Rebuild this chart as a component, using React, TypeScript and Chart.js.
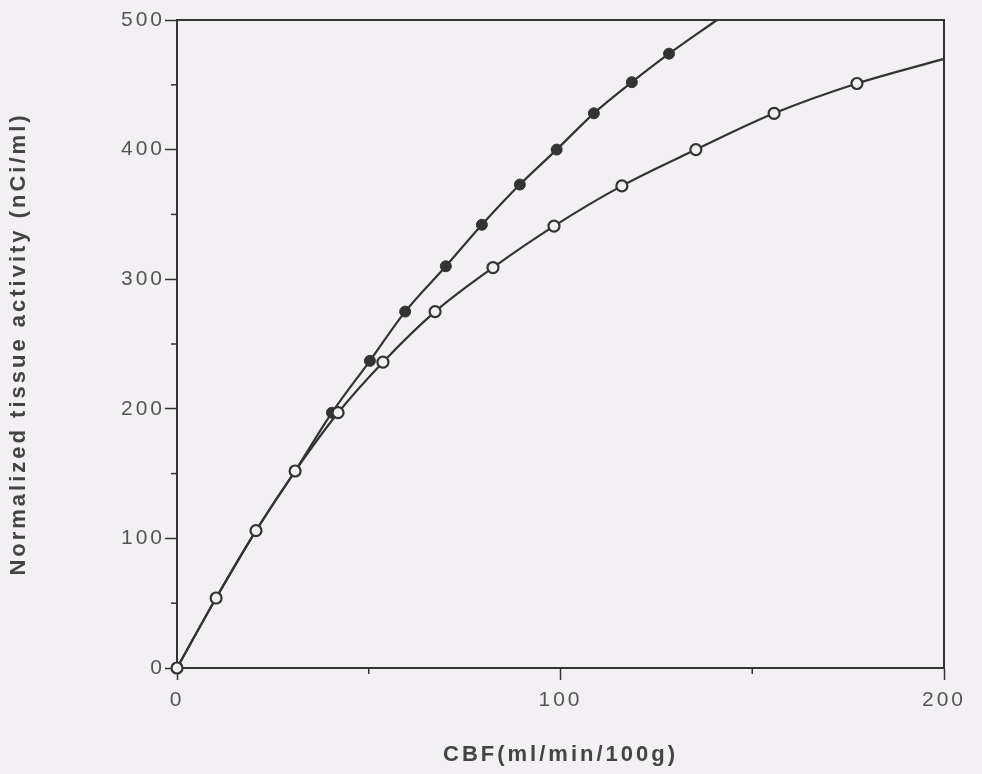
import React, { useEffect, useRef } from "react";
import { Chart, registerables } from "chart.js";

Chart.register(...registerables);

// Filled circles series (CBF, activity)
const cbfFilled = [0, 10.2, 20.6, 30.8, 40.4, 50.3, 59.5, 70.1, 79.5, 89.4, 99, 108.7, 118.6, 128.3, 140.8];
const activityFilled = [0, 54, 106, 152, 197, 237, 275, 310, 342, 373, 400, 428, 452, 474, 500];
// Open circles series
const cbfOpen = [0, 10.2, 20.6, 30.8, 42, 53.7, 67.3, 82.4, 98.3, 116, 135.3, 155.7, 177.3, 200];
const activityOpen = [0, 54, 106, 152, 197, 236, 275, 309, 341, 372, 400, 428, 451, 470];

const xTitle = "CBF(ml/min/100g)";
const yTitle = "Normalized tissue activity (nCi/ml)";
const xMax = 200;
const yMax = 500;
const tickStep = 50;
const labelStep = 100;

const INK = "#333333";
const TEXT = "#555555";
const FONT = "'Liberation Sans', Arial, Helvetica, sans-serif";

const framePlugin = {
  id: "frame",
  beforeDraw(chart: any) {
    (chart.ctx as any).letterSpacing = "3px";
  },
  afterDraw(chart: any) {
    const { ctx, chartArea: a, scales } = chart;
    ctx.save();
    (ctx as any).letterSpacing = "0px";
    ctx.strokeStyle = INK;
    ctx.lineWidth = 2;
    ctx.beginPath();
    ctx.moveTo(a.left, a.top);
    ctx.lineTo(a.right, a.top);
    ctx.lineTo(a.right, a.bottom);
    ctx.stroke();
    ctx.lineWidth = 1.5;
    for (const t of scales.x.ticks) {
      if (t.value % labelStep !== 0) {
        const px = scales.x.getPixelForValue(t.value);
        ctx.beginPath();
        ctx.moveTo(px, a.bottom);
        ctx.lineTo(px, a.bottom + 6);
        ctx.stroke();
      }
    }
    for (const t of scales.y.ticks) {
      if (t.value % labelStep !== 0) {
        const py = scales.y.getPixelForValue(t.value);
        ctx.beginPath();
        ctx.moveTo(a.left, py);
        ctx.lineTo(a.left - 6, py);
        ctx.stroke();
      }
    }
    ctx.restore();
  },
};

export default function App() {
  const ref = useRef<HTMLCanvasElement>(null);
  useEffect(() => {
    if (!ref.current) return;
    const openData = cbfOpen.map((x, i) => ({ x, y: activityOpen[i] }));
    const filledData = cbfFilled.map((x, i) => ({ x, y: activityFilled[i] }));
    const openRadius = cbfOpen.map((_, i) => (i === cbfOpen.length - 1 ? 0 : 5.5));
    const filledRadius = cbfFilled.map((_, i) => (i < 4 || i === cbfFilled.length - 1 ? 0 : 5.5));
    const chart = new Chart(ref.current, {
      type: "line",
      data: {
        datasets: [
          {
            label: "open",
            data: openData,
            borderColor: INK,
            borderWidth: 2.2,
            pointRadius: openRadius,
            pointBorderWidth: 2.2,
            pointBackgroundColor: "#f2f0f3",
            pointBorderColor: INK,
            cubicInterpolationMode: "monotone",
            clip: false as any,
          },
          {
            label: "filled",
            data: filledData,
            borderColor: INK,
            borderWidth: 2.2,
            pointRadius: filledRadius,
            pointBorderWidth: 1,
            pointBackgroundColor: INK,
            pointBorderColor: INK,
            cubicInterpolationMode: "monotone",
            clip: false as any,
          },
        ],
      },
      options: {
        animation: false,
        responsive: true,
        maintainAspectRatio: false,
        layout: { padding: { top: 20, right: 38, left: 0, bottom: 0 } },
        plugins: { legend: { display: false }, tooltip: { enabled: false } },
        scales: {
          x: {
            type: "linear",
            min: 0,
            max: xMax,
            afterFit: (s: any) => {
              s.height = 106;
            },
            border: { display: true, color: INK, width: 2 },
            grid: {
              drawOnChartArea: false,
              drawTicks: true,
              tickLength: 12,
              tickWidth: 1.5,
              tickColor: (c: any) => (c.tick && c.tick.value % labelStep === 0 ? INK : "rgba(0,0,0,0)"),
            },
            ticks: {
              stepSize: tickStep,
              autoSkip: false,
              maxRotation: 0,
              padding: 8,
              color: TEXT,
              font: { family: FONT, size: 21 },
              callback: (v: any) => (Number(v) % labelStep === 0 ? String(v) : ""),
            },
            title: {
              display: true,
              text: xTitle,
              color: "#444",
              font: { family: FONT, size: 22, weight: "bold" },
              padding: { top: 0, bottom: 6 },
            },
          },
          y: {
            type: "linear",
            min: 0,
            max: yMax,
            afterFit: (s: any) => {
              s.width = 177;
            },
            border: { display: true, color: INK, width: 2 },
            grid: {
              drawOnChartArea: false,
              drawTicks: true,
              tickLength: 12,
              tickWidth: 1.5,
              tickColor: (c: any) => (c.tick && c.tick.value % labelStep === 0 ? INK : "rgba(0,0,0,0)"),
            },
            ticks: {
              stepSize: tickStep,
              autoSkip: false,
              padding: 0,
              color: TEXT,
              font: { family: FONT, size: 21 },
              callback: (v: any) => (Number(v) % labelStep === 0 ? String(v) : ""),
            },
            title: {
              display: true,
              text: yTitle,
              color: "#444",
              font: { family: FONT, size: 22, weight: "bold" },
              padding: { top: 6, bottom: 0 },
            },
          },
        },
      },
      plugins: [framePlugin],
    } as any);
    return () => chart.destroy();
  }, []);
  return (
    <div style={{ position: "fixed", left: 0, top: 0, width: 982, height: 774, background: "#f2f0f3" }}>
      <canvas ref={ref} />
    </div>
  );
}
